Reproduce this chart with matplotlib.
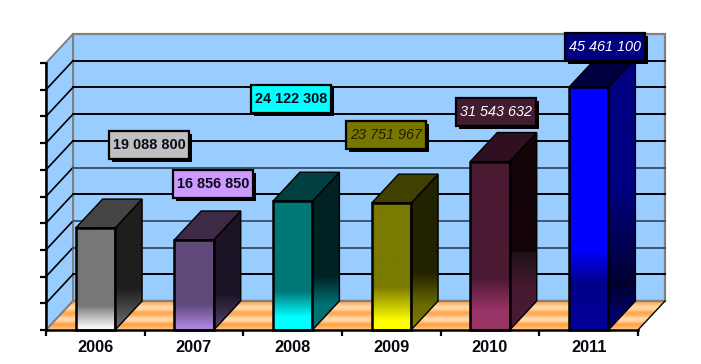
from matplotlib import pyplot as plt
from matplotlib import patheffects as pe
from matplotlib.colors import LinearSegmentedColormap
from matplotlib.patches import Polygon, Rectangle
from matplotlib.transforms import IdentityTransform
import numpy as np

plt.rcParams['font.family'] = ['Liberation Sans', 'DejaVu Sans']

years = ['2006', '2007', '2008', '2009', '2010', '2011']
values = [19088800, 16856850, 24122308, 23751967, 31543632, 45461100]
labels = ['19 088 800', '16 856 850', '24 122 308', '23 751 967', '31 543 632', '45 461 100']
y_ticks = [0, 5e6, 10e6, 15e6, 20e6, 25e6, 30e6, 35e6, 40e6, 45e6, 50e6]

# styles: (fraction of bar height from the bottom, colour)
front_stops = [
    [(0, '#ffffff'), (0.04, '#f0f0f0'), (0.24, '#777777'), (1, '#777777')],
    [(0, '#b58be8'), (0.05, '#a67fd6'), (0.28, '#604a7b'), (1, '#604a7b')],
    [(0, '#00ffff'), (0.1, '#00ffff'), (0.3, '#007777'), (1, '#007777')],
    [(0, '#ffff00'), (0.07, '#ffff00'), (0.34, '#7a7a00'), (1, '#7a7a00')],
    [(0, '#993366'), (0.12, '#993366'), (0.31, '#4a1a32'), (1, '#4a1a32')],
    [(0, '#00009c'), (0.19, '#000088'), (0.33, '#0000ff'), (1, '#0000ff')],
]
side_stops = [
    [(0, '#777777'), (0.05, '#6a6a6a'), (0.41, '#1e1e1e'), (1, '#1e1e1e')],
    [(0, '#604a7b'), (0.05, '#504066'), (0.4, '#1c1426'), (1, '#1c1426')],
    [(0, '#007777'), (0.2, '#007070'), (0.42, '#002222'), (1, '#002222')],
    [(0, '#808000'), (0.2, '#6a6a00'), (0.45, '#222200'), (1, '#222200')],
    [(0, '#4d1a33'), (0.25, '#451a30'), (0.459, '#201018'), (0.46, '#140408'), (1, '#140408')],
    [(0, '#000080'), (0.19, '#000030'), (0.33, '#000050'), (0.6, '#000080'), (1, '#000080')],
]
top_colors = ['#444444', '#3c2a46', '#004040', '#404000', '#301020', '#000040']
box_colors = ['#c0c0c0', '#cc99ff', '#00ffff', '#777700', '#421c30', '#000080']
text_colors = ['#0a0a1a', '#0a0a1a', '#000a1a', '#1e1e00', '#ffffff', '#ffffff']
text_bold = [True, True, True, False, False, False]
text_italic = [False, False, False, True, True, True]
box_centers = [(149, 145), (213, 184), (291, 99), (386, 135), (496, 112), (605, 47)]
grid_colors = ['#000000', '#3f5670', '#3f5670', '#000000', '#3f5670',
               '#000000', '#000000', '#000000', '#000000']
floor_colors = ['#ffd6a0', '#ffb062', '#ff9f40', '#ffd09a', '#ffdcae',
                '#ffb468', '#ffa34a', '#ffcf96', '#ffdcae', '#ffb870', '#ffa850']

fig = plt.figure(figsize=(7.01, 3.64), dpi=100)
ax = fig.add_axes([46 / 701, 1 - 330 / 364, 592 / 701, 267 / 364])
ax.patch.set_visible(False)

n = len(years)
ymax = y_ticks[-1]
dx = 27 / 592 * n
dy = 29 / 267 * ymax
bw = 0.2


def gradient(x0, x1, y0, y1, stops, clip, z=3):
    cmap = LinearSegmentedColormap.from_list('g', stops, N=256)
    img = ax.imshow(np.linspace(0, 1, 256).reshape(-1, 1), cmap=cmap, vmin=0, vmax=1,
                    origin='lower', extent=(x0, x1, y0, y1), aspect='auto',
                    interpolation='bilinear', zorder=z)
    img.set_clip_box(fig.bbox)
    img.set_clip_path(clip)


# back wall, left wall
back = Polygon([(dx, dy), (n + dx, dy), (n + dx, ymax + dy), (dx, ymax + dy)], fc='#99ccff',
               ec='#808080', lw=1.6, zorder=1, clip_on=False)
left = Polygon([(0, 0), (dx, dy), (dx, ymax + dy), (0, ymax)], fc='#99ccff', ec='#808080',
               lw=1.4, zorder=1, clip_on=False)
ax.add_patch(back)
ax.add_patch(left)

# floor with its orange bands
floor = Polygon([(0, 0), (dx, dy), (n + dx, dy), (n, 0)], fc='none', ec='none', zorder=2, clip_on=False)
ax.add_patch(floor)
gradient(0, n + dx, 0, dy, [(k / (len(floor_colors) - 1), c) for k, c in enumerate(floor_colors)], floor, z=2)
ax.plot([dx, n + dx], [dy, dy], color='#808080', lw=1.6, zorder=2, clip_on=False)
ax.plot([0, dx], [0, dy], color='#808080', lw=1.4, zorder=2, clip_on=False)
ax.plot([n, n + dx], [0, dy], color='#000000', lw=1, zorder=2, clip_on=False)

# gridlines on both walls
for t, c in zip(y_ticks[1:-1], grid_colors):
    ax.plot([0, dx], [t, t + dy], color='black', lw=1.2, zorder=2, clip_on=False)
    ax.plot([dx, n + dx], [t + dy, t + dy], color=c, lw=1.4, zorder=2, clip_on=False)

# 3d bars
for i, v in enumerate(values):
    x0 = i + 0.5 - bw
    x1 = i + 0.5 + bw

    front = Polygon([(x0, 0), (x1, 0), (x1, v), (x0, v)], fc='none', ec='none', transform=ax.transData)
    ax.add_patch(front)
    gradient(x0, x1, 0, v, front_stops[i], front)

    side_pts = [(x1, 0), (x1 + dx, dy), (x1 + dx, v + dy), (x1, v)]
    side = Polygon(side_pts, fc='none', ec='none', transform=ax.transData)
    ax.add_patch(side)
    # stops are fractions of the bar height, so the picture runs past the top of the side
    gradient(x1, x1 + dx, 0, v, side_stops[i], side)
    gradient(x1, x1 + dx, v, v + dy, [(0, side_stops[i][-1][1]), (1, side_stops[i][-1][1])], side)

    ax.add_patch(Polygon(side_pts, fc='none', ec='black', lw=1, zorder=4, clip_on=False))
    ax.add_patch(Polygon([(x0, v), (x1, v), (x1 + dx, v + dy), (x0 + dx, v + dy)], fc=top_colors[i],
                         ec='black', lw=1, zorder=4, clip_on=False))
    ax.add_patch(Polygon([(x0, 0), (x1, 0), (x1, v), (x0, v)], fc='none', ec='black', lw=1.8,
                         zorder=5, clip_on=False))

# value boxes
for i, s in enumerate(labels):
    cx, cy = box_centers[i]
    cy = 364 - cy
    box = Rectangle((cx - 40, cy - 14), 80, 28, transform=IdentityTransform(), fc=box_colors[i],
                    ec='black', lw=1.6, zorder=7, clip_on=False)
    box.set_path_effects([pe.SimplePatchShadow(offset=(2.4, -2.4), shadow_rgbFace='black', alpha=1),
                          pe.Normal()])
    ax.add_patch(box)
    ax.text(cx, cy, s, transform=IdentityTransform(), ha='center', va='center', fontsize=10.4,
            color=text_colors[i], fontweight='bold' if text_bold[i] else 'normal',
            fontstyle='italic' if text_italic[i] else 'normal', zorder=8)

ax.set_xlim(0, n)
ax.set_ylim(0, ymax)
ax.set_xticks(np.arange(n + 1))
ax.set_xticklabels([])
ax.set_xticks(np.arange(n) + 0.5, minor=True)
ax.set_xticklabels(years, minor=True, fontsize=11.8, fontweight='bold', color='#080810')
ax.set_yticks(y_ticks)
ax.set_yticklabels([])
ax.tick_params(axis='both', which='major', length=4, width=1.6, direction='out')
ax.tick_params(axis='x', which='minor', length=0, pad=7)
for side_name in ['top', 'right']:
    ax.spines[side_name].set_visible(False)
for side_name in ['left', 'bottom']:
    ax.spines[side_name].set_linewidth(1.8)
    ax.spines[side_name].set_zorder(6)

fig.savefig('out.png', dpi=100)
